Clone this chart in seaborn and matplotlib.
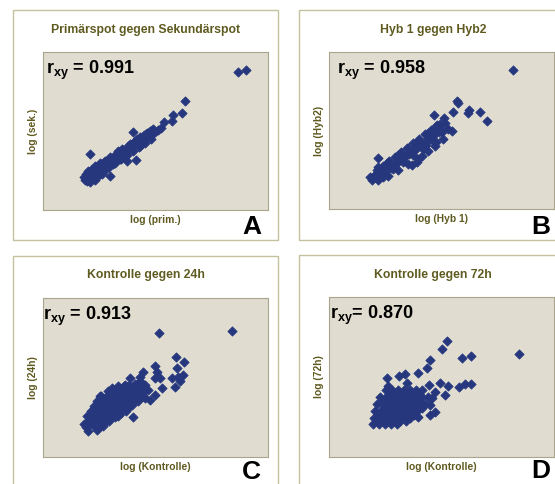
import matplotlib
matplotlib.use("Agg")
import matplotlib.pyplot as plt
from matplotlib.patches import Rectangle
import pandas as pd
import seaborn as sns

# log values (arbitrary log units)
points_a = [
    (3.90, 2.76), (4.06, 2.80), (2.84, 2.18), (2.78, 1.94), (2.60, 1.90), (2.58, 1.78),
    (2.42, 1.76), (2.36, 1.64), (1.80, 1.56), (0.94, 1.12), (1.86, 1.00), (1.34, 0.68),
    (1.68, 0.98),
    (2.30, 1.60), (2.24, 1.56), (2.18, 1.52), (2.10, 1.48), (2.04, 1.44), (1.98, 1.40),
    (1.92, 1.36), (1.86, 1.32), (1.80, 1.28), (1.74, 1.24), (1.68, 1.20), (1.62, 1.16),
    (1.56, 1.12), (1.50, 1.08), (1.44, 1.04), (1.38, 1.00), (1.32, 0.96), (1.26, 0.92),
    (1.20, 0.88), (1.14, 0.84), (1.08, 0.80), (1.02, 0.76), (0.96, 0.72), (0.90, 0.68),
    (0.86, 0.64), (0.84, 0.60),
    (2.14, 1.58), (2.02, 1.50), (1.94, 1.46), (1.84, 1.38), (1.70, 1.26), (1.58, 1.22),
    (1.50, 1.18), (1.64, 1.10), (1.44, 0.96), (1.34, 1.06), (1.24, 0.98), (1.14, 0.94),
    (1.04, 0.88), (0.98, 0.82), (0.90, 0.78), (0.88, 0.58), (0.98, 0.62), (1.08, 0.66),
    (1.18, 0.72), (1.26, 0.82), (1.10, 0.72), (0.94, 0.56), (1.04, 0.60), (1.40, 0.92),
    (1.54, 1.02), (1.74, 1.32), (1.94, 1.28), (2.08, 1.54), (2.20, 1.62), (2.00, 1.34),
    (1.88, 1.42),
    (0.86, 0.72), (0.98, 0.80), (1.10, 0.88), (1.22, 0.96), (1.34, 1.04), (1.46, 1.12),
    (1.58, 1.20), (1.70, 1.28), (1.82, 1.36), (1.94, 1.44), (2.06, 1.52), (2.18, 1.60),
    (0.96, 0.62), (1.08, 0.70), (1.20, 0.78), (1.32, 0.86), (1.44, 0.94), (1.56, 1.02),
    (1.68, 1.10), (1.80, 1.18), (1.92, 1.26), (2.04, 1.34), (2.16, 1.42),
    (0.82, 0.66), (0.90, 0.62), (1.00, 0.70), (1.12, 0.78), (0.92, 0.70), (1.16, 0.86),
    (1.28, 0.90), (1.02, 0.84),
]

points_b = [
    (3.68, 2.78), (2.56, 2.16), (2.58, 2.12), (2.48, 1.94), (2.80, 1.98), (2.78, 1.92),
    (3.02, 1.94), (3.16, 1.76), (2.10, 1.88), (2.30, 1.82), (2.22, 1.70), (2.46, 1.56),
    (0.98, 1.02),
    (0.90, 0.66), (1.02, 0.74), (1.14, 0.80), (1.26, 0.88), (1.38, 0.96), (1.50, 1.04),
    (1.62, 1.14), (1.74, 1.22), (1.86, 1.32), (1.98, 1.42), (2.10, 1.52), (2.22, 1.62),
    (2.32, 1.72),
    (0.98, 0.84), (1.18, 0.94), (1.38, 1.08), (1.58, 1.22), (1.78, 1.36), (1.98, 1.52),
    (2.14, 1.66),
    (0.98, 0.58), (1.18, 0.66), (1.38, 0.78), (1.58, 0.90), (1.78, 1.00), (1.98, 1.16),
    (2.14, 1.34),
    (0.86, 0.58), (0.94, 0.70), (1.08, 0.64), (0.82, 0.64),
    (1.86, 1.06), (1.76, 0.94), (1.66, 0.88), (2.12, 1.26), (2.28, 1.40), (2.26, 1.54),
    (1.94, 1.28), (2.38, 1.60),
    (1.08, 0.76), (1.28, 0.80), (1.48, 0.94), (1.68, 1.08), (1.88, 1.20), (2.06, 1.38),
    (0.96, 0.78), (1.08, 0.87), (1.20, 0.96), (1.32, 1.05), (1.44, 1.14), (1.56, 1.23),
    (1.68, 1.32), (1.80, 1.41), (1.92, 1.50), (2.04, 1.59), (2.16, 1.68),
    (1.00, 0.65), (1.12, 0.74), (1.24, 0.83), (1.36, 0.92), (1.48, 1.01), (1.60, 1.10),
    (1.72, 1.19), (1.84, 1.28), (1.96, 1.37), (2.08, 1.46), (2.20, 1.55),
]

points_c = [
    (3.78, 2.50), (2.32, 2.46), (2.66, 1.98), (2.82, 1.88), (2.24, 1.80), (2.28, 1.68),
    (2.68, 1.76), (2.70, 1.58), (2.58, 1.56), (2.80, 1.62), (2.74, 1.50), (2.64, 1.38),
    (2.00, 1.68), (1.94, 1.58), (1.74, 1.56), (2.24, 1.56), (2.34, 1.56), (2.38, 1.36),
    (2.24, 1.22), (2.14, 1.12), (1.80, 0.78),
    (0.86, 0.58), (0.98, 0.66), (1.10, 0.74), (1.22, 0.84), (1.34, 0.92), (1.46, 1.00),
    (1.56, 1.08), (1.68, 1.16), (1.80, 1.26), (1.92, 1.34), (2.04, 1.42),
    (0.88, 0.80), (1.00, 0.88), (1.12, 0.98), (1.24, 1.06), (1.36, 1.14), (1.46, 1.22),
    (1.58, 1.30), (1.70, 1.40), (1.84, 1.44),
    (1.08, 0.52), (1.20, 0.60), (1.32, 0.70), (1.44, 0.78), (1.56, 0.86), (1.66, 0.94),
    (1.78, 1.02), (1.90, 1.16),
    (0.90, 0.50), (0.82, 0.64), (1.94, 1.50), (2.10, 1.32), (1.14, 1.20), (1.38, 1.36),
    (1.64, 1.42), (2.04, 1.16),
    (0.90, 0.60), (1.02, 0.60), (1.14, 0.60),
    (0.90, 0.70), (1.02, 0.70), (1.14, 0.70), (1.26, 0.70),
    (0.92, 0.80), (1.04, 0.80), (1.16, 0.80), (1.28, 0.80), (1.40, 0.80), (1.50, 0.80),
    (0.96, 0.90), (1.08, 0.90), (1.20, 0.90), (1.32, 0.90), (1.44, 0.90), (1.56, 0.90),
    (1.66, 0.90),
    (1.02, 1.00), (1.14, 1.00), (1.26, 1.00), (1.38, 1.00), (1.50, 1.00), (1.62, 1.00),
    (1.74, 1.00),
    (1.08, 1.10), (1.20, 1.10), (1.32, 1.10), (1.44, 1.10), (1.56, 1.10), (1.68, 1.10),
    (1.80, 1.10), (1.90, 1.10),
    (1.16, 1.20), (1.28, 1.20), (1.40, 1.20), (1.52, 1.20), (1.64, 1.20), (1.76, 1.20),
    (1.88, 1.20), (2.00, 1.20),
    (1.30, 1.30), (1.42, 1.30), (1.54, 1.30), (1.66, 1.30), (1.78, 1.30), (1.90, 1.30),
    (2.02, 1.30),
    (1.50, 1.40), (1.62, 1.40), (1.74, 1.40), (1.86, 1.40), (1.98, 1.40),
]

points_d = [
    (3.80, 2.04), (2.84, 2.00), (2.66, 1.96), (2.36, 2.30), (2.26, 2.14), (2.02, 1.92),
    (1.96, 1.76), (1.78, 1.66), (1.52, 1.64), (1.40, 1.60), (1.16, 1.56), (1.18, 1.40),
    (1.56, 1.46), (2.00, 1.42), (2.22, 1.46), (2.38, 1.40), (2.60, 1.38), (2.72, 1.44),
    (2.84, 1.44), (2.32, 1.22), (2.12, 1.28), (2.06, 1.16), (2.02, 1.02), (2.12, 0.88),
    (2.02, 0.82), (1.78, 0.78),
    (1.14, 1.32), (1.26, 1.32), (1.38, 1.32), (1.50, 1.32), (1.62, 1.32), (1.74, 1.32),
    (1.86, 1.32),
    (1.02, 1.18), (1.14, 1.18), (1.26, 1.18), (1.38, 1.18), (1.50, 1.18), (1.62, 1.18),
    (1.74, 1.18), (1.86, 1.18), (1.98, 1.18),
    (0.96, 1.04), (1.08, 1.04), (1.20, 1.04), (1.32, 1.04), (1.44, 1.04), (1.56, 1.04),
    (1.68, 1.04), (1.80, 1.04), (1.92, 1.04),
    (0.92, 0.90), (1.04, 0.90), (1.16, 0.90), (1.28, 0.90), (1.40, 0.90), (1.52, 0.90),
    (1.64, 0.90), (1.76, 0.90),
    (0.90, 0.76), (1.02, 0.76), (1.14, 0.76), (1.26, 0.76), (1.38, 0.76), (1.50, 0.76),
    (1.62, 0.76),
    (0.88, 0.64), (1.00, 0.64), (1.12, 0.64), (1.24, 0.64), (1.36, 0.64),
    (1.20, 1.25), (1.44, 1.25), (1.68, 1.25),
    (1.08, 1.11), (1.32, 1.11), (1.56, 1.11), (1.80, 1.11),
    (1.10, 0.97), (1.34, 0.97), (1.58, 0.97), (1.86, 0.97),
    (0.98, 0.83), (1.22, 0.83), (1.46, 0.83), (1.70, 0.83),
    (0.95, 0.70), (1.18, 0.70), (1.42, 0.70),
    (1.32, 1.25), (1.56, 1.25), (1.80, 1.25), (1.20, 1.11), (1.44, 1.11), (1.68, 1.11),
    (1.22, 0.97), (1.46, 0.97), (1.70, 0.97), (1.10, 0.83), (1.34, 0.83), (1.58, 0.83),
    (1.06, 0.70), (1.30, 0.70), (1.54, 0.70),
]

titles = ["Primärspot gegen Sekundärspot", "Hyb 1 gegen Hyb2",
          "Kontrolle gegen 24h", "Kontrolle gegen 72h"]
xlabels = ["log (prim.)", "log (Hyb 1)", "log (Kontrolle)", "log (Kontrolle)"]
ylabels = ["log (sek.)", "log (Hyb2)", "log (24h)", "log (72h)"]
r_texts = [r"$\mathrm{r_{xy}}$ = 0.991", r"$\mathrm{r_{xy}}$ = 0.958",
           r"$\mathrm{r_{xy}}$ = 0.913", r"$\mathrm{r_{xy}}$= 0.870"]
letters = ["A", "B", "C", "D"]
all_points = [points_a, points_b, points_c, points_d]

sns.set_style("white")
plt.rcParams["font.family"] = ["Liberation Sans", "DejaVu Sans"]
plt.rcParams["mathtext.fontset"] = "custom"
plt.rcParams["mathtext.rm"] = "Liberation Sans:bold"
plt.rcParams["mathtext.it"] = "Liberation Sans:bold"
plt.rcParams["mathtext.bf"] = "Liberation Sans:bold"

W, H = 555, 484
fig = plt.figure(figsize=(W / 100, H / 100), dpi=100)
fig.patch.set_facecolor("white")

olive = "#5f5a20"
panel_bg = "#e0ddd0"
dot = "#26377e"

# layout in pixels: (box, axes, ylim, r-text x, letter pos)
layout = [
    dict(box=(13, 10, 278, 240), ax=(43, 52, 268, 210), ylim=(0, 3.16), rx=0.012, letter=(252, 234)),
    dict(box=(299, 10, 567, 240), ax=(329, 52, 554, 209), ylim=(0, 3.14), rx=0.035, letter=(541, 234)),
    dict(box=(13, 256, 278, 495), ax=(43, 298, 268, 457), ylim=(-0.02, 3.16), rx=0.0, letter=(251, 479)),
    dict(box=(299, 255, 567, 495), ax=(329, 297, 554, 457), ylim=(-0.02, 3.18), rx=0.005, letter=(541, 478)),
]

for i, lay in enumerate(layout):
    bx0, by0, bx1, by1 = lay["box"]
    fig.patches.append(Rectangle((bx0 / W, 1 - by1 / H), (bx1 - bx0) / W, (by1 - by0) / H,
                                 transform=fig.transFigure, fill=False,
                                 edgecolor="#c5c29e", linewidth=1.0))
    ax0, ay0, ax1, ay1 = lay["ax"]
    ax = fig.add_axes([ax0 / W, 1 - ay1 / H, (ax1 - ax0) / W, (ay1 - ay0) / H])
    df = pd.DataFrame(all_points[i], columns=["x", "y"])
    sns.scatterplot(data=df, x="x", y="y", ax=ax, marker="D", s=22,
                    color=dot, edgecolor=dot, linewidth=0.6)
    ax.set_xlim(0, 4.5)
    ax.set_ylim(*lay["ylim"])
    ax.set_facecolor(panel_bg)
    ax.set_xticks([])
    ax.set_yticks([])
    ax.set_xlabel("")
    ax.set_ylabel("")
    for sp in ax.spines.values():
        sp.set_color("#a9a58c")
        sp.set_linewidth(0.8)

    ax.text(lay["rx"], 0.955, r_texts[i], transform=ax.transAxes, ha="left", va="top",
            fontsize=13, fontweight="bold", color="black")

    # title, axis labels and panel letter
    fig.text((bx0 + bx1) / 2 / W, 1 - (30 if i < 2 else 275) / H, titles[i],
             ha="center", va="center", fontsize=8.8, fontweight="bold", color=olive)
    fig.text((ax0 + ax1) / 2 / W, 1 - (ay1 + 10) / H, xlabels[i],
             ha="center", va="center", fontsize=7.4, fontweight="bold", color=olive)
    fig.text((ax0 - 10) / W, 1 - (ay0 + ay1) / 2 / H, ylabels[i], rotation=90,
             ha="center", va="center", fontsize=7.4, fontweight="bold", color=olive)
    lx, ly = lay["letter"]
    fig.text(lx / W, 1 - ly / H, letters[i], ha="center", va="baseline",
             fontsize=19, fontweight="bold", color="black")

fig.savefig("out.png", dpi=100, facecolor="white")
